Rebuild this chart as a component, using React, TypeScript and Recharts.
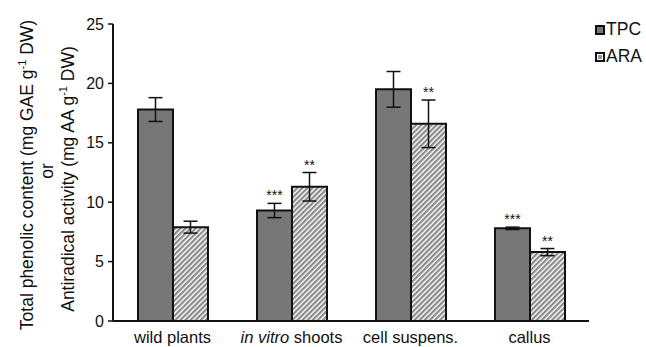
import { BarChart, Bar, XAxis, YAxis, ErrorBar, LabelList, Legend } from 'recharts';

const categories = ['wild plants', 'in vitro shoots', 'cell suspens.', 'callus'];
const tpcValues = [17.8, 9.3, 19.5, 7.8];
const tpcErrors = [1.0, 0.6, 1.5, 0.1];
const tpcMarks = ['', '***', '', '***'];
const araValues = [7.9, 11.3, 16.6, 5.8];
const araErrors = [0.5, 1.2, 2.0, 0.3];
const araMarks = ['', '**', '**', '**'];
const yTicks = [0, 5, 10, 15, 20, 25];

const data = categories.map((name, i) => ({
  name,
  tpc: tpcValues[i],
  tpcErr: tpcErrors[i],
  tpcMark: tpcMarks[i],
  ara: araValues[i],
  araErr: araErrors[i],
  araMark: araMarks[i],
}));

const FONT = '"Liberation Sans", Arial, sans-serif';

// asterisks sit just above the top of the error bar
function makeMark(values: number[], errors: number[]) {
  return (props: any) => {
    const { x, y, width, height, value, index } = props;
    if (!value) return null;
    const perUnit = height / values[index];
    const top = y - errors[index] * perUnit;
    return (
      <text x={x + width / 2} y={top - 3} textAnchor="middle" fontSize={14} fontFamily={FONT} fill="#111">
        {value}
      </text>
    );
  };
}

function XTick({ x, y, payload }: any) {
  const v = payload.value as string;
  const common = { x, y, dy: '0.71em', textAnchor: 'middle' as const, fontSize: 16.5, fontFamily: FONT, fill: '#111' };
  if (v.startsWith('in vitro')) {
    return (
      <text {...common}>
        <tspan fontStyle="italic">in vitro</tspan> shoots
      </text>
    );
  }
  return <text {...common}>{v}</text>;
}

function YLabel() {
  const cy = 175;
  const sup = (t: string) => (
    <tspan fontSize={11} dy={-7}>{t}</tspan>
  );
  const back = <tspan dy={7}> </tspan>;
  return (
    <g fontFamily={FONT} fontSize={17.5} fill="#111">
      <text transform={`translate(33, ${cy}) rotate(-90)`} textAnchor="middle">
        Total phenolic content (mg GAE g{sup('-1')}{back}DW)
      </text>
      <text transform={`translate(53, ${cy - 4}) rotate(-90)`} textAnchor="middle">or</text>
      <text transform={`translate(74, ${cy + 4}) rotate(-90)`} textAnchor="middle">
        Antiradical activity (mg AA g{sup('-1')}{back}DW)
      </text>
    </g>
  );
}

function LegendBox() {
  const items = ['TPC', 'ARA'];
  return (
    <div style={{ fontFamily: FONT, fontSize: 17.5, color: '#111' }}>
      {items.map((label) => (
        <div key={label} style={{ display: 'flex', alignItems: 'center', height: 27 }}>
          <svg width={10} height={10} style={{ marginRight: 1 }}>
            <rect x={1} y={1} width={8} height={8} fill={label === 'TPC' ? '#777' : '#fff'} stroke="#111" strokeWidth={2} />
            {label === 'ARA' && <rect x={3} y={3} width={4} height={4} fill="#999" />}
          </svg>
          {label}
        </div>
      ))}
    </div>
  );
}

export default function App() {
  return (
    <div style={{ position: 'absolute', left: 0, top: 0, background: '#fff' }}>
      <BarChart
        width={646}
        height={347}
        data={data}
        margin={{ top: 24, right: 10, bottom: 0, left: 0 }}
        barCategoryGap="21%"
        barGap={0}
      >
        <defs>
          <pattern id="hatch" patternUnits="userSpaceOnUse" width={3.6} height={3.6} patternTransform="rotate(45)">
            <rect x={0} y={0} width={3.6} height={3.6} fill="#fff" />
            <rect x={0} y={0} width={2.2} height={3.6} fill="#8a8a8a" />
          </pattern>
        </defs>
        <XAxis
          dataKey="name"
          height={26}
          tick={<XTick />}
          tickLine={false}
          tickMargin={4}
          axisLine={{ stroke: '#111', strokeWidth: 2 }}
          interval={0}
        />
        <YAxis
          width={113}
          domain={[0, 25]}
          ticks={yTicks}
          tick={{ fontSize: 16, fontFamily: FONT, fill: '#111' }}
          tickSize={5}
          tickMargin={4}
          tickLine={{ stroke: '#111', strokeWidth: 1.5 }}
          axisLine={{ stroke: '#111', strokeWidth: 2 }}
          label={<YLabel />}
        />
        <Legend
          verticalAlign="top"
          align="right"
          layout="vertical"
          content={<LegendBox />}
          wrapperStyle={{ top: 16, right: 4, left: 'auto', width: 'auto' }}
        />
        <Bar dataKey="tpc" name="TPC" fill="#777" stroke="#111" strokeWidth={2} isAnimationActive={false}>
          <ErrorBar dataKey="tpcErr" width={7} stroke="#111" strokeWidth={1.5} />
          <LabelList dataKey="tpcMark" content={makeMark(tpcValues, tpcErrors)} />
        </Bar>
        <Bar dataKey="ara" name="ARA" fill="url(#hatch)" stroke="#111" strokeWidth={2} isAnimationActive={false}>
          <ErrorBar dataKey="araErr" width={7} stroke="#111" strokeWidth={1.5} />
          <LabelList dataKey="araMark" content={makeMark(araValues, araErrors)} />
        </Bar>
      </BarChart>
    </div>
  );
}
